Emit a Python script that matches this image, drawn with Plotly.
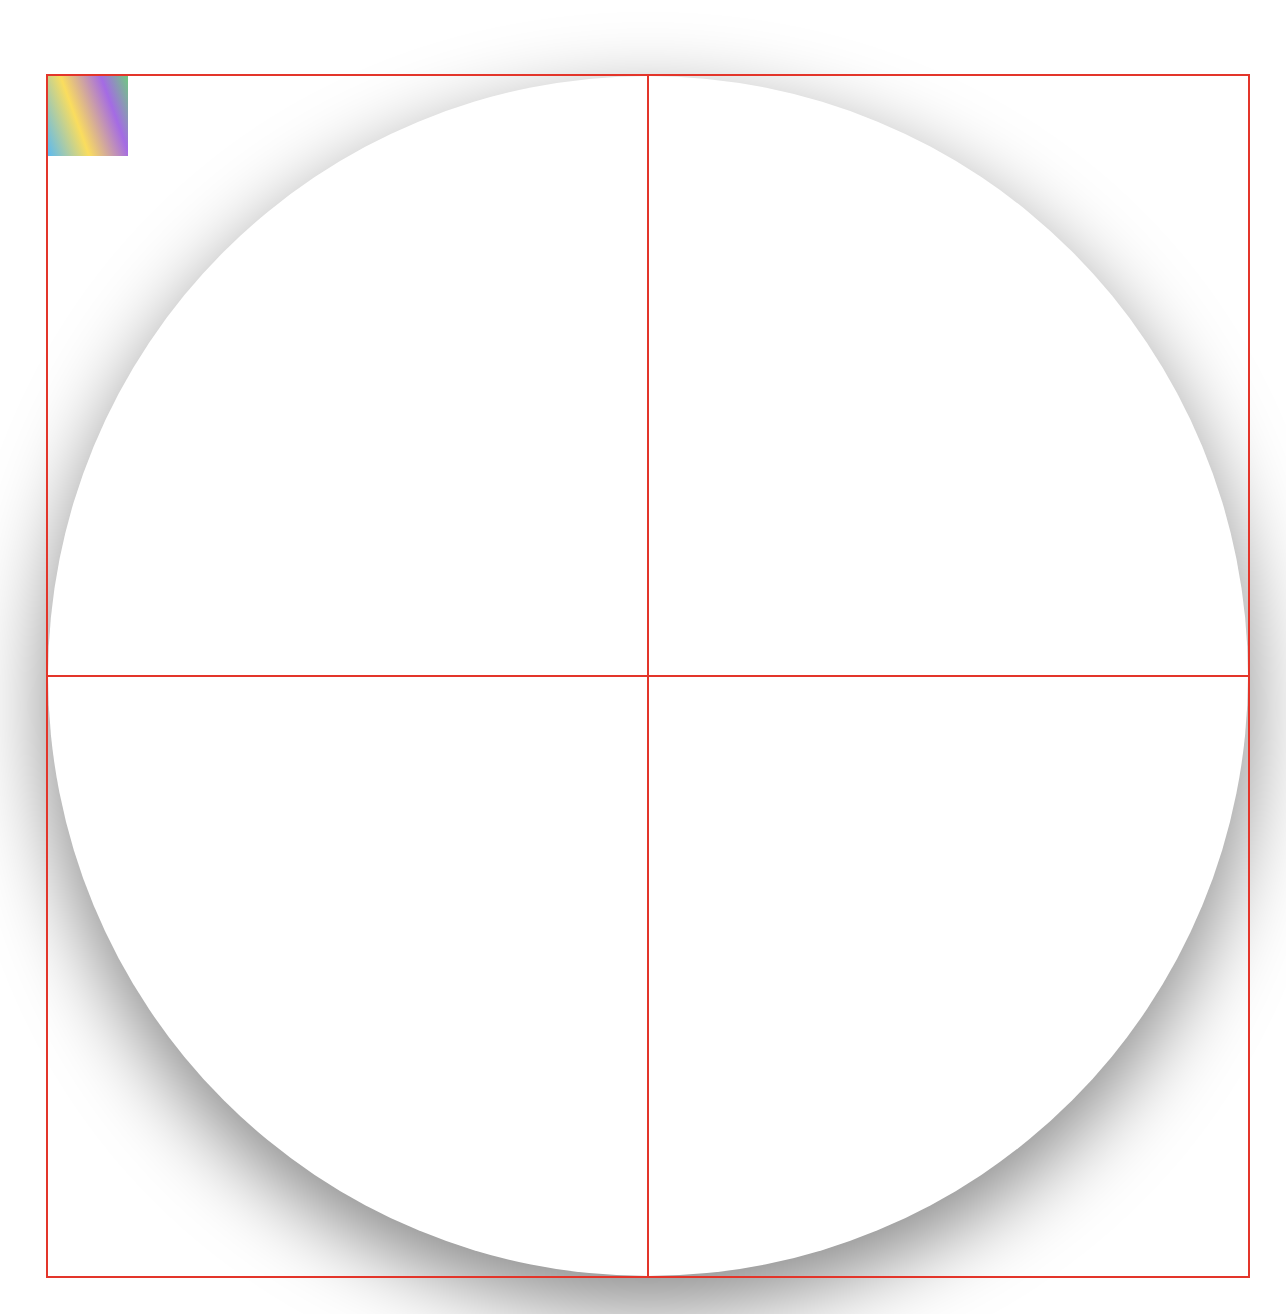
import base64
import plotly.graph_objects as go

# page / plot geometry (px)
fig_width = 1286
fig_height = 1314
margin_left, margin_right = 48, 38
margin_top, margin_bottom = 76, 38

# the "data": a unit disc split into four quadrants
axis_range = [-1, 1]
circle_x = [-1, 1]
circle_y = [-1, 1]

# little gradient swatch in the top-left corner
swatch_px = 80
grad_stops = [0.0, 0.38, 0.75, 1.0]
grad_colors = ["#5cbaf0", "#fadd5e", "#a46be4", "#6fca80"]

# drop shadow under the disc
shadow_dy = 30
shadow_blur = 42
shadow_alpha = 0.48

line_red = "#e3352a"


def svg_uri(svg):
    return "data:image/svg+xml;base64," + base64.b64encode(svg.encode()).decode()


plot_w = fig_width - margin_left - margin_right
plot_h = fig_height - margin_top - margin_bottom
r = plot_w / 2
cx = margin_left + r
cy = margin_top + plot_h / 2 + shadow_dy

shadow_svg = (
    f'<svg xmlns="http://www.w3.org/2000/svg" width="{fig_width}" height="{fig_height}" '
    f'viewBox="0 0 {fig_width} {fig_height}">'
    '<defs><filter id="b" x="-20%" y="-20%" width="140%" height="140%">'
    f'<feGaussianBlur stdDeviation="{shadow_blur}"/></filter></defs>'
    f'<circle cx="{cx}" cy="{cy}" r="{r}" fill="black" fill-opacity="{shadow_alpha}" filter="url(#b)"/>'
    '</svg>'
)

stops = "".join(
    f'<stop offset="{o}" stop-color="{c}"/>' for o, c in zip(grad_stops, grad_colors)
)
swatch_svg = (
    '<svg xmlns="http://www.w3.org/2000/svg" width="100" height="100" viewBox="0 0 100 100" '
    'preserveAspectRatio="none">'
    '<defs><linearGradient id="g" x1="-0.102" y1="0.719" x2="1.102" y2="0.281">'
    f'{stops}</linearGradient></defs>'
    '<rect x="0" y="0" width="100" height="100" fill="url(#g)"/></svg>'
)

fig = go.Figure()

# invisible trace so the axes exist
fig.add_trace(go.Scatter(x=circle_x, y=circle_y, mode="markers",
                         marker=dict(opacity=0), hoverinfo="skip", showlegend=False))

fig.add_shape(type="circle", xref="x", yref="y",
              x0=circle_x[0], x1=circle_x[1], y0=circle_y[0], y1=circle_y[1],
              fillcolor="white", line=dict(width=0), layer="below")

fig.add_layout_image(
    source=svg_uri(shadow_svg), xref="paper", yref="paper",
    x=-margin_left / plot_w, y=1 + margin_top / plot_h,
    sizex=fig_width / plot_w, sizey=fig_height / plot_h,
    xanchor="left", yanchor="top", sizing="stretch", layer="below",
)
fig.add_layout_image(
    source=svg_uri(swatch_svg), xref="paper", yref="paper",
    x=0, y=1, sizex=swatch_px / plot_w, sizey=swatch_px / plot_h,
    xanchor="left", yanchor="top", sizing="stretch", layer="below",
)

axis_style = dict(
    range=axis_range, showgrid=False, showticklabels=False, ticks="",
    zeroline=True, zerolinecolor=line_red, zerolinewidth=2,
    showline=True, linecolor=line_red, linewidth=2, mirror=True,
    fixedrange=True,
)
fig.update_xaxes(**axis_style)
fig.update_yaxes(**axis_style)

fig.update_layout(
    width=fig_width, height=fig_height,
    margin=dict(l=margin_left, r=margin_right, t=margin_top, b=margin_bottom),
    paper_bgcolor="white", plot_bgcolor="rgba(0,0,0,0)",
    showlegend=False,
)

fig.write_html("out.html", config={"displayModeBar": False},
               post_script="document.body.style.margin='0';")
